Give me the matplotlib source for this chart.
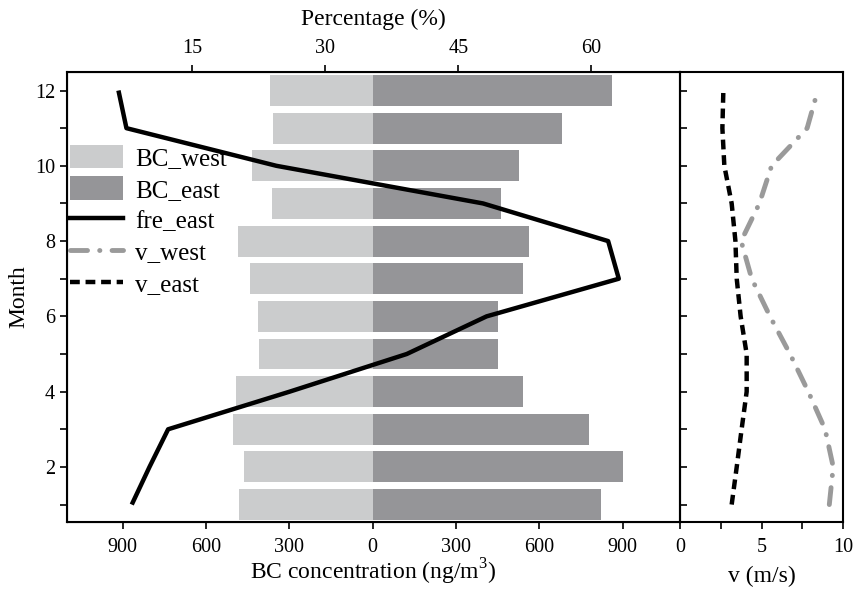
import matplotlib
matplotlib.use("Agg")
import matplotlib.pyplot as plt
from matplotlib.patches import Patch
from matplotlib.lines import Line2D
from matplotlib.ticker import MultipleLocator, FixedLocator

plt.rcParams['font.family'] = ['Liberation Serif', 'DejaVu Serif']
plt.rcParams['mathtext.fontset'] = 'custom'
plt.rcParams['mathtext.rm'] = 'Liberation Serif'

months = [1, 2, 3, 4, 5, 6, 7, 8, 9, 10, 11, 12]
bc_west = [480, 463, 504, 492, 409, 413, 441, 485, 361, 436, 358, 370]
bc_east = [821, 902, 779, 542, 451, 451, 541, 563, 463, 528, 681, 861]
fre_east = [8.2, 10.2, 12.3, 26.0, 39.2, 48.2, 63.1, 61.9, 47.8, 24.5, 7.6, 6.7]
v_west = [9.16, 9.4, 8.9, 7.87, 6.75, 5.52, 4.4, 3.75, 4.87, 5.62, 7.8, 8.45]
v_east = [3.17, 3.48, 3.78, 4.09, 4.09, 3.72, 3.48, 3.4, 3.17, 2.72, 2.6, 2.66]

bottom_ticks = [-900, -600, -300, 0, 300, 600, 900]
bottom_labels = ['900', '600', '300', '0', '300', '600', '900']

c_west = '#cbcccd'
c_east = '#959598'
c_vwest = '#9a9a9a'
ls_vwest = (0, (3.5, 2.5, 0.05, 2.5))
ls_veast = (0, (2.2, 1.3))

fig = plt.figure(figsize=(8.6, 5.89), dpi=100)
ax = fig.add_axes([67/860, 1-521.5/589, (680-67)/860, (521.5-71.7)/589])
axr = fig.add_axes([680/860, 1-521.5/589, (843-680)/860, (521.5-71.7)/589])

ax.barh(months, [-v for v in bc_west], height=0.82, color=c_west, edgecolor='none')
ax.barh(months, bc_east, height=0.82, color=c_east, edgecolor='none')
ax.set_xlim(-1100, 1106)
ax.set_ylim(0.55, 12.5)
ax.set_xticks(bottom_ticks)
ax.set_xticklabels(bottom_labels)
ax.yaxis.set_major_locator(FixedLocator([2, 4, 6, 8, 10, 12]))
ax.yaxis.set_minor_locator(FixedLocator([1, 3, 5, 7, 9, 11]))
ax.tick_params(axis='both', which='both', direction='out', length=5, width=1.2, labelsize=14.5)
ax.tick_params(axis='x', pad=7)
ax.set_xlabel('BC concentration (ng/m$^{\\mathregular{3}}$)', fontsize=17, labelpad=0)
ax.set_ylabel('Month', fontsize=17, labelpad=4)
for s in ax.spines.values():
    s.set_linewidth(1.5)

axt = ax.twiny()
axt.plot(fre_east, months, color='black', lw=3.2, solid_capstyle='butt')
axt.set_xlim(0.9, 70.0)
axt.set_xticks([15, 30, 45, 60])
axt.tick_params(axis='x', direction='out', length=5, width=1.2, labelsize=14.5, pad=5)
axt.set_xlabel('Percentage (%)', fontsize=17, labelpad=10)
axt.set_ylim(0.55, 12.5)

axr.plot(v_west, months, color=c_vwest, lw=3.5, linestyle=ls_vwest, dash_capstyle='round')
axr.plot(v_east, months, color='black', lw=3.2, linestyle=ls_veast)
axr.set_xlim(0, 10)
axr.set_ylim(0.55, 12.5)
axr.set_xticks([0, 5, 10])
axr.xaxis.set_minor_locator(MultipleLocator(2.5))
axr.yaxis.set_major_locator(FixedLocator(months))
axr.tick_params(axis='y', which='both', direction='in', length=5, width=1.2, labelleft=False)
axr.tick_params(axis='x', which='both', direction='out', length=5, width=1.2, labelsize=14.5, pad=7)
axr.set_xlabel('v (m/s)', fontsize=17, labelpad=6)
for s in axr.spines.values():
    s.set_linewidth(1.5)

handles = [
    Patch(facecolor=c_west, edgecolor='none'),
    Patch(facecolor=c_east, edgecolor='none'),
    Line2D([], [], color='black', lw=3.2),
    Line2D([], [], color=c_vwest, lw=3.5, linestyle=ls_vwest, dash_capstyle='round'),
    Line2D([], [], color='black', lw=3.2, linestyle=ls_veast),
]
labels = ['BC_west', 'BC_east', 'fre_east', 'v_west', 'v_east']
leg = ax.legend(handles, labels, loc='upper left', bbox_to_anchor=(0.005, 0.838),
                frameon=False, fontsize=18, handlelength=2.1, handleheight=1.05,
                labelspacing=0.27, handletextpad=0.5, borderaxespad=0, borderpad=0)

fig.savefig('out.png', dpi=100)
